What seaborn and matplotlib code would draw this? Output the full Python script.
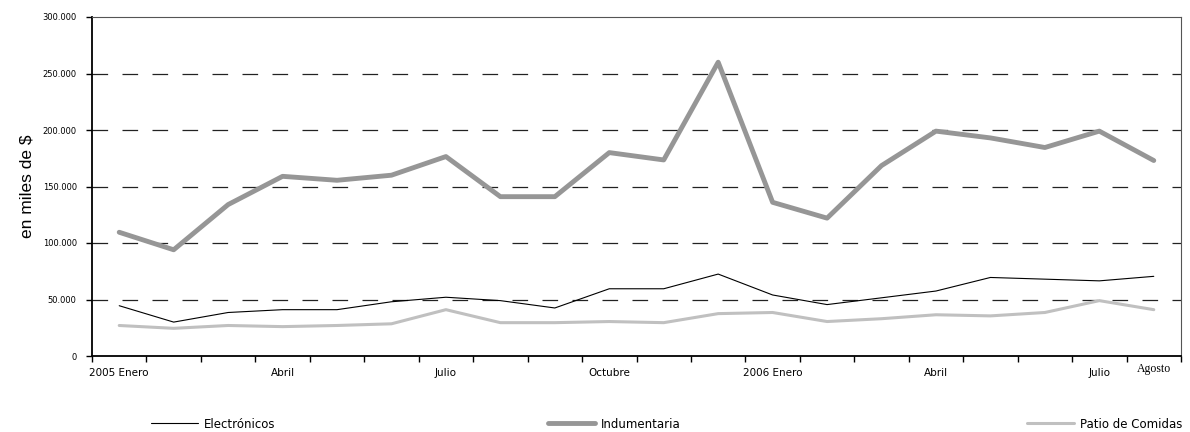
import numpy as np
import pandas as pd
import matplotlib
matplotlib.use("Agg")
import matplotlib.pyplot as plt
import seaborn as sns
from matplotlib.ticker import FuncFormatter, FixedLocator

# Datos (miles de $), enero 2005 - agosto 2006
meses = ["2005-01", "2005-02", "2005-03", "2005-04", "2005-05", "2005-06", "2005-07",
         "2005-08", "2005-09", "2005-10", "2005-11", "2005-12", "2006-01", "2006-02",
         "2006-03", "2006-04", "2006-05", "2006-06", "2006-07", "2006-08"]
electronicos = [44.5, 30, 38.5, 41, 41, 48, 52, 49, 42.5, 59.5, 59.5, 72.5, 54,
                45.5, 51.5, 57.5, 69.5, 68, 66.5, 70.5]
indumentaria = [109.5, 94, 134, 159, 155.5, 160, 176.5, 141, 141, 180, 173.5, 260,
                136, 122, 168.5, 199, 193, 184.5, 199, 173]
patio = [27, 24.5, 27, 26, 27, 28.5, 41, 29.5, 29.5, 30.5, 29.5, 37.5, 38.5,
         30.5, 33, 36.5, 35.5, 38.5, 49, 41]

etiquetas_pos = [0, 3, 6, 9, 12, 15, 18, 19]
etiquetas = ["2005 Enero", "Abril", "Julio", "Octubre", "2006 Enero", "Abril", "Julio", "Agosto"]

series = ["Electrónicos", "Indumentaria", "Patio de Comidas"]
colores = {"Electrónicos": "#000000", "Indumentaria": "#969696", "Patio de Comidas": "#c0c0c0"}
anchos = {"Electrónicos": 0.8, "Indumentaria": 3.5, "Patio de Comidas": 2.2}

df = pd.DataFrame({
    "x": list(range(len(meses))) * 3,
    "valor": np.array(electronicos + indumentaria + patio) * 1000,
    "serie": [s for s in series for _ in meses],
})

sns.set_style("white")
plt.rcParams['font.family'] = ['DejaVu Sans']
plt.rcParams['text.color'] = 'black'
plt.rcParams['axes.labelcolor'] = 'black'
plt.rcParams['xtick.color'] = 'black'
plt.rcParams['ytick.color'] = 'black'

fig = plt.figure(figsize=(11.9, 4.32), dpi=100)
ax = fig.add_axes([92 / 1190, 1 - 356 / 432, (1181 - 92) / 1190, (356 - 17) / 432])

# Líneas de grilla punteadas
for yv in [50000, 100000, 150000, 200000, 250000]:
    ax.axhline(yv, color="#222222", lw=0.9, dashes=(12.5, 11.5), zorder=0)

sns.lineplot(data=df, x="x", y="valor", hue="serie", size="serie",
             palette=colores, sizes=anchos, hue_order=series, size_order=series,
             legend=False, ax=ax, zorder=3)

ax.set_xlim(-0.5, 19.5)
ax.set_ylim(0, 300000)
ax.set_yticks(np.arange(0, 300001, 50000))
ax.yaxis.set_major_formatter(FuncFormatter(lambda v, p: f"{int(v):,}".replace(",", ".")))
ax.tick_params(axis="y", labelsize=6, length=4, width=1, color="black", pad=7,
               left=True, direction="out")

ax.xaxis.set_major_locator(FixedLocator(etiquetas_pos))
ax.set_xticklabels(etiquetas)
ax.xaxis.set_minor_locator(FixedLocator(np.arange(-0.5, 20, 1)))
ax.tick_params(axis="x", which="major", length=0, labelsize=7.5, pad=9)
ax.tick_params(axis="x", which="minor", length=4, width=1, color="black", bottom=True, direction="out")
ult = ax.get_xticklabels()[-1]
ult.set_family(['Liberation Serif'])
ult.set_fontsize(8.5)
ult.set_y(0.015)

ax.set_xlabel("")
ax.set_ylabel("en miles de $", fontsize=12.5, labelpad=6,
              family=['Liberation Sans', 'DejaVu Sans'])

for lado in ["left", "bottom"]:
    ax.spines[lado].set_color("black")
    ax.spines[lado].set_linewidth(1.3)
for lado in ["top", "right"]:
    ax.spines[lado].set_visible(True)
    ax.spines[lado].set_color("#555555")
    ax.spines[lado].set_linewidth(0.8)

# Leyenda inferior, tres entradas separadas
lineas = ax.get_lines()[5:]
pos_x = [151, 548, 1027]
for ln, nombre, px in zip(lineas, series, pos_x):
    fig.legend([ln], [nombre], loc="center left", bbox_to_anchor=(px / 1190, 1 - 424 / 432),
               frameon=False, fontsize=8.5, handlelength=4.0, handletextpad=0.5,
               borderpad=0, borderaxespad=0)

fig.savefig("out.png", dpi=100)
